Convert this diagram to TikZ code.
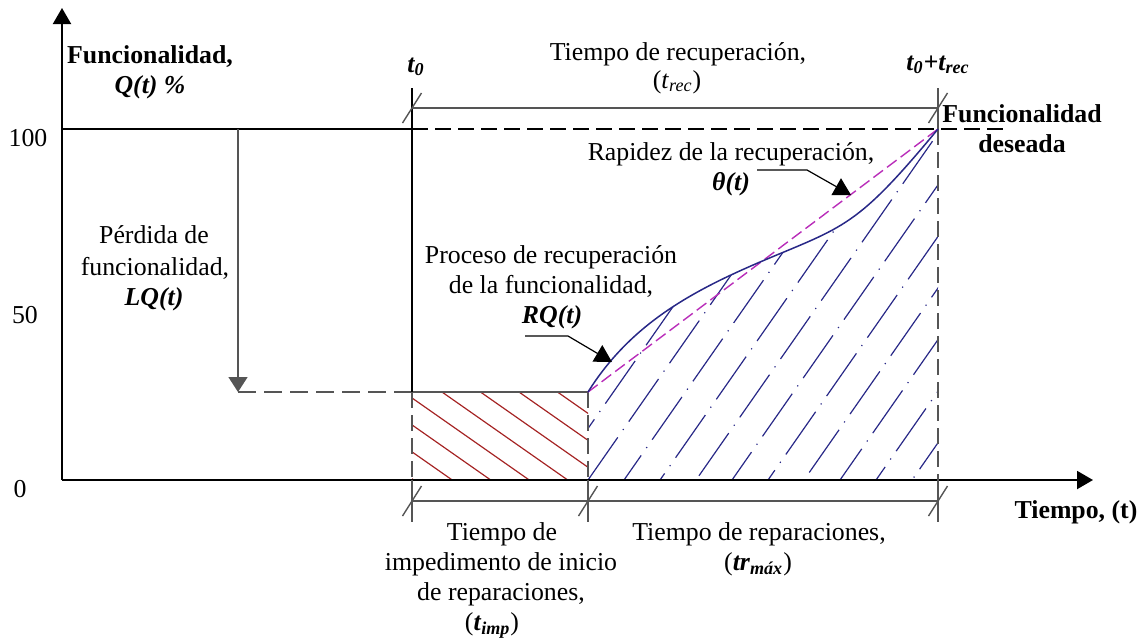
\documentclass[tikz,border=0pt]{standalone}
\usepackage{fontspec}
\setmainfont{Liberation Serif}
\usetikzlibrary{arrows.meta}
\definecolor{hatchred}{RGB}{165,35,35}
\definecolor{hatchblue}{RGB}{40,40,135}
\definecolor{ratecol}{RGB}{185,45,185}
\definecolor{guidegray}{RGB}{85,85,85}
\begin{document}
\begin{tikzpicture}[x=0.5pt,y=-0.5pt,
  txt/.style={font=\fontsize{12.9}{15}\selectfont, inner sep=0pt, anchor=base},
  btxt/.style={txt, font=\fontsize{12.9}{15}\selectfont\bfseries},
  axisline/.style={black, line width=1pt, -{Triangle[length=8pt,width=9pt]}},
  guide/.style={guidegray, line width=0.8pt},
  guidedash/.style={guide, dash pattern=on 8pt off 3.5pt},
  slash/.style={guidegray, line width=0.7pt},
  lead/.style={black, line width=0.6pt, -{Triangle[length=8.5pt,width=9.5pt]}},
  redhatch/.style={hatchred, line width=0.6pt},
  bluehatch/.style={hatchblue, line width=0.6pt, dash pattern=on 26pt off 4.5pt on 0.6pt off 4.5pt},
]
\useasboundingbox (0,0) rectangle (1143,639);

% key points
\coordinate (O) at (62,480);
\coordinate (Ytop) at (62,8);
\coordinate (Xend) at (1093,480);
\coordinate (Q100) at (62,129);
\coordinate (T0top) at (412,88);
\coordinate (T0q) at (412,129);
\coordinate (T0low) at (412,392);
\coordinate (T0ax) at (412,480);
\coordinate (T0bot) at (412,522);
\coordinate (Tstart) at (588,392);
\coordinate (Tsax) at (588,480);
\coordinate (Tsbot) at (588,522);
\coordinate (Tmid) at (760,262);
\coordinate (Tetop) at (938,88);
\coordinate (Teq) at (938,129);
\coordinate (Teax) at (938,480);
\coordinate (Tebot) at (938,522);
\coordinate (Dend) at (1007,129);
\coordinate (Lq) at (238,129);
\coordinate (Lqlow) at (238,392);

% red hatch (impediment time)
\begin{scope}
  \clip (412,392) rectangle (588,480);
  \foreach \k in {-3,...,5} {
    \draw[redhatch] ({403.5+38.5*\k},392) -- ++(200,140);
  }
\end{scope}

% blue hatch (recovery area)
\begin{scope}
  \clip (Tsax) -- (Tstart) .. controls (630,325) and (690,292) .. (Tmid)
        .. controls (845,226) and (856,228) .. (Teq) -- (Teax) -- cycle;
  \foreach \k in {-8,...,10} {
    \draw[bluehatch, dash phase={mod(\k*11,35)*1pt}] ({588+36*\k},480) -- ++(245,-351);
  }
\end{scope}

% axes
\draw[axisline] (O) -- (Ytop);
\draw[axisline] (O) -- (Xend);

% 100 % line
\draw[black, line width=0.8pt] (Q100) -- (T0q);
\draw[black, line width=0.8pt, dash pattern=on 8pt off 3.5pt] (T0q) -- (Dend);

% loss of functionality
\draw[guide, -{Triangle[length=7.5pt,width=9.5pt]}] (Lq) -- (Lqlow);
\draw[guide, dash pattern=on 9pt off 4pt] (Lqlow) -- (T0low);
\draw[guide] (T0low) -- (Tstart);

% vertical guides
\draw[black, line width=0.8pt] (T0top) -- (T0low);
\draw[guidedash] (T0low) -- (T0ax);
\draw[guide] (T0ax) -- (T0bot);
\draw[guidedash] (Tstart) -- (Tsax);
\draw[guide] (Tsax) -- (Tsbot);
\draw[guide] (Tetop) -- (Teq);
\draw[guidedash] (Teq) -- (Teax);
\draw[guide] (Teax) -- (Tebot);

% dimension lines
\coordinate (DimTa) at (412,108);
\coordinate (DimTb) at (938,108);
\coordinate (DimBa) at (412,501);
\coordinate (DimBm) at (588,501);
\coordinate (DimBb) at (938,501);
\draw[guide] (DimTa) -- (DimTb);
\draw[guide] (DimBa) -- (DimBb);
\foreach \p in {DimTa,DimTb,DimBa,DimBm,DimBb} {
  \draw[slash] ([shift={(-9.5,15)}]\p) -- ([shift={(9.5,-15)}]\p);
}

% rate of recovery (straight line)
\draw[ratecol, line width=0.7pt, dash pattern=on 6pt off 2.5pt] (Tstart) -- (Teq);

% recovery curve
\draw[hatchblue, line width=0.75pt] (Tstart) .. controls (630,325) and (690,292) .. (Tmid)
      .. controls (845,226) and (856,228) .. (Teq);

% leaders
\coordinate (RQa) at (525,336);
\coordinate (RQb) at (568,336);
\coordinate (RQc) at (612,362);
\draw[lead] (RQa) -- (RQb) -- (RQc);
\coordinate (THa) at (757,170);
\coordinate (THb) at (807,170);
\coordinate (THc) at (851,195);
\draw[lead] (THa) -- (THb) -- (THc);

% texts
\node[btxt] (ylab1) at (150,63) {Funcionalidad,};
\node[btxt] (ylab2) at (150,93) {\itshape Q(t) \%};
\node[txt] (y100) at (28,146) {100};
\node[txt] (y50) at (25,323) {50};
\node[txt] (y0) at (20,497) {0};
\node[txt] (lq1) at (154,243) {Pérdida de};
\node[txt] (lq2) at (155,275) {funcionalidad,};
\node[btxt] (lq3) at (154,305) {\itshape LQ(t)};
\node[btxt] (t0) at (416,72) {\itshape t\textsubscript{0}};
\node[txt] (rec1) at (678,60) {Tiempo de recuperación,};
\node[txt] (rec2) at (677,88) {(\textit{t}\textsubscript{\textit{rec}})};
\node[btxt] (t0rec) at (938,70) {\itshape t\textsubscript{0}+t\textsubscript{rec}};
\node[btxt] (fd1) at (1022,122) {Funcionalidad};
\node[btxt] (fd2) at (1022,152) {deseada};
\node[txt] (rap1) at (731,160) {Rapidez de la recuperación,};
\node[btxt] (rap2) at (731,190) {\itshape θ(t)};
\node[txt] (rq1) at (551,263) {Proceso de recuperación};
\node[txt] (rq2) at (551,293) {de la funcionalidad,};
\node[btxt] (rq3) at (552,323) {\itshape RQ(t)};
\node[txt] (imp1) at (502,540) {Tiempo de};
\node[txt] (imp2) at (501,570) {impedimento de inicio};
\node[txt] (imp3) at (501,600) {de reparaciones,};
\node[txt] (imp4) at (492,630) {(\textbf{\textit{t}}\textsubscript{\textbf{\textit{imp}}})};
\node[txt] (rep1) at (759,540) {Tiempo de reparaciones,};
\node[txt] (rep2) at (758,570) {(\textbf{\textit{tr}}\textsubscript{\textbf{\textit{máx}}})};
\node[btxt] (tlab) at (1076,518) {Tiempo, (t)};
\end{tikzpicture}
\end{document}
